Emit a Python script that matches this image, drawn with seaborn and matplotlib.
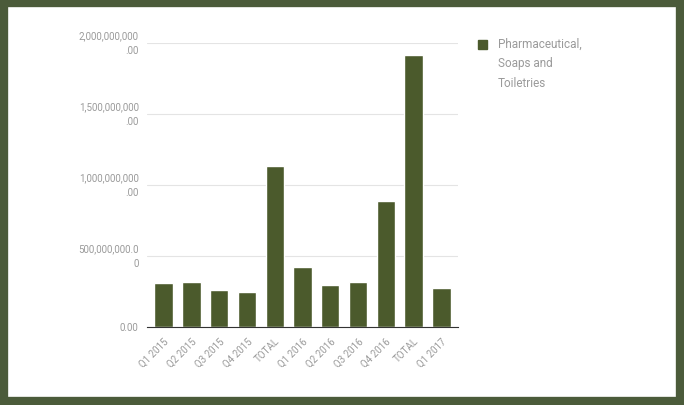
import matplotlib
matplotlib.use("Agg")
import matplotlib.pyplot as plt
from matplotlib.patches import Rectangle
import pandas as pd
import seaborn as sns

# values
quarters = ["Q1 2015", "Q2 2015", "Q3 2015", "Q4 2015", "TOTAL",
            "Q1 2016", "Q2 2016", "Q3 2016", "Q4 2016", "TOTAL ",
            "Q1 2017"]
values = [310e6, 315e6, 263e6, 244e6, 1136e6,
          420e6, 298e6, 315e6, 885e6, 1918e6, 272e6]
ytick_vals = [0, 500e6, 1000e6, 1500e6, 2000e6]
ytick_labels = ["0.00", "500,000,000.0\n0", "1,000,000,000\n.00",
                "1,500,000,000\n.00", "2,000,000,000\n.00"]
series_name = "Pharmaceutical,\nSoaps and\nToiletries"

bar_color = "#4b5a2c"
border_color = "#4b5b3a"
text_color = "#9a9a9a"

sns.set_style("white")
plt.rcParams["font.family"] = ["Roboto", "DejaVu Sans"]

df = pd.DataFrame({"Quarter": quarters, "Value": values})

fig = plt.figure(figsize=(6.84, 4.06), dpi=100)
ax = fig.add_axes([147 / 684, 1 - 328 / 406, (458 - 147) / 684, (328 - 44) / 406])

sns.barplot(data=df, x="Quarter", y="Value", color=bar_color,
            width=0.66, saturation=1, ax=ax)

ax.set_ylim(0, 2000e6)
ax.set_xlim(-0.6, len(quarters) - 0.4)
ax.set_yticks(ytick_vals)
ax.set_yticklabels(ytick_labels, fontsize=7, color=text_color, ha="right",
                   linespacing=1.6)
for lab in ax.get_yticklabels():
    lab.set_verticalalignment("center")
ax.set_xticks(range(len(quarters)))
ax.set_xticklabels([q.strip() for q in quarters], rotation=45, ha="right",
                   rotation_mode="anchor", fontsize=7, color=text_color)
ax.tick_params(axis="both", length=0, pad=6)
ax.set_xlabel("")
ax.set_ylabel("")
ax.grid(axis="y", color="#e4e4e4", linewidth=0.8)
ax.set_axisbelow(True)
for s in ["top", "right", "left"]:
    ax.spines[s].set_visible(False)
ax.spines["bottom"].set_color("#333333")
ax.spines["bottom"].set_linewidth(0.8)

# legend: marker next to the first line of a wrapped label
fig.patches.append(Rectangle((478 / 684, 1 - 50 / 406), 9 / 684, 9 / 406,
                             transform=fig.transFigure, color=bar_color))
fig.text(498 / 684, 1 - 38 / 406, series_name, fontsize=8.5, color=text_color,
         va="top", ha="left", linespacing=1.65)

# dark frame around the whole picture
fig.patches.append(Rectangle((0.006, 0.01), 0.988, 0.98, transform=fig.transFigure,
                             fill=False, edgecolor=border_color, linewidth=6))

fig.savefig("out.png", dpi=100)
